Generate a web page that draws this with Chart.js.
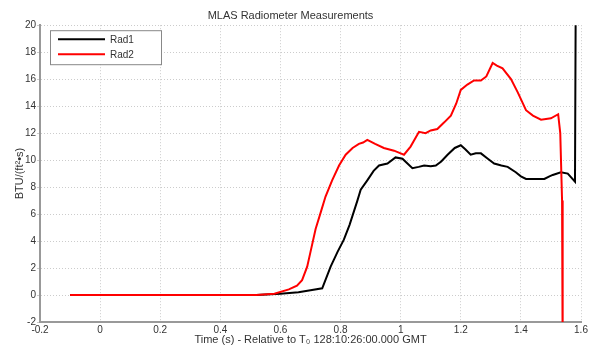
<!DOCTYPE html>
<html>
<head>
<meta charset="utf-8">
<script src="https://cdn.jsdelivr.net/npm/chart.js@4"></script>
<style>
  html, body { margin: 0; padding: 0; background: #fff; }
  #wrap { width: 595px; height: 347px; }
</style>
</head>
<body>
<div id="wrap"><canvas id="chart" width="595" height="347"></canvas></div>
<script>
// Rad1 / Rad2 readings (time in s, BTU/(ft^2 s))
const rad1Time = [-0.1, 0.52, 0.6, 0.66, 0.70, 0.739, 0.767, 0.79, 0.811, 0.83, 0.856, 0.867, 0.889, 0.91, 0.928, 0.956, 0.983, 1.006, 1.02, 1.039, 1.06, 1.078, 1.1, 1.117, 1.135, 1.156, 1.18, 1.2, 1.215, 1.233, 1.25, 1.267, 1.29, 1.311, 1.335, 1.356, 1.383, 1.40, 1.417, 1.45, 1.478, 1.495, 1.506, 1.533, 1.556, 1.58, 1.583];
const rad1Values = [0, 0, 0.1, 0.2, 0.35, 0.5, 2.1, 3.2, 4.1, 5.2, 7.0, 7.8, 8.5, 9.2, 9.6, 9.75, 10.2, 10.1, 9.8, 9.4, 9.5, 9.6, 9.55, 9.6, 9.9, 10.4, 10.9, 11.1, 10.8, 10.4, 10.5, 10.5, 10.1, 9.75, 9.6, 9.5, 9.1, 8.8, 8.6, 8.6, 8.6, 8.8, 8.9, 9.1, 9.0, 8.4, 25];

const rad2Time = [-0.1, 0.52, 0.58, 0.628, 0.655, 0.672, 0.689, 0.70, 0.717, 0.735, 0.75, 0.772, 0.795, 0.817, 0.84, 0.861, 0.875, 0.889, 0.915, 0.944, 0.978, 1.0, 1.011, 1.033, 1.061, 1.083, 1.1, 1.122, 1.145, 1.167, 1.185, 1.2, 1.222, 1.244, 1.267, 1.285, 1.306, 1.32, 1.339, 1.367, 1.39, 1.417, 1.44, 1.467, 1.5, 1.524, 1.531, 1.537, 1.539];
const rad2Values = [0, 0, 0.1, 0.42, 0.7, 1.1, 2.1, 3.2, 4.9, 6.2, 7.3, 8.5, 9.6, 10.4, 10.9, 11.2, 11.3, 11.5, 11.2, 10.9, 10.7, 10.5, 10.4, 11.0, 12.1, 12.0, 12.2, 12.3, 12.8, 13.3, 14.2, 15.2, 15.6, 15.9, 15.9, 16.2, 17.2, 17.0, 16.8, 16.0, 15.0, 13.7, 13.3, 13.0, 13.1, 13.4, 12.0, 7.0, -5];

const xMin = -0.2, xMax = 1.6, xStep = 0.2;
const yMin = -2, yMax = 20, yStep = 2;

const FONT = "'Liberation Sans', Arial, Helvetica, sans-serif";
const TEXT = '#333';

function toPoints(xs, ys) {
  return xs.map((x, i) => ({ x: x, y: ys[i] }));
}

// legend in a box at the top-left corner of the plot, MATLAB style
const boxLegend = {
  id: 'boxLegend',
  afterDraw(chart) {
    const { ctx, chartArea } = chart;
    const x0 = chartArea.left + 10, y0 = chartArea.top + 5;
    const w = 111, h = 34;
    ctx.save();
    ctx.fillStyle = '#fff';
    ctx.fillRect(x0, y0, w, h);
    ctx.strokeStyle = '#888';
    ctx.lineWidth = 1;
    ctx.strokeRect(x0 + 0.5, y0 + 0.5, w, h);
    ctx.font = '10px ' + FONT;
    ctx.textBaseline = 'middle';
    chart.data.datasets.forEach((ds, i) => {
      const ly = y0 + 9 + i * 15;
      ctx.strokeStyle = ds.borderColor;
      ctx.lineWidth = 2;
      ctx.beginPath();
      ctx.moveTo(x0 + 8, ly);
      ctx.lineTo(x0 + 55, ly);
      ctx.stroke();
      ctx.fillStyle = TEXT;
      ctx.fillText(ds.label, x0 + 60, ly + 1);
    });
    ctx.restore();
  }
};

const gridStyle = { color: '#cccccc', lineWidth: 1, drawTicks: false };
const borderStyle = { color: '#999', width: 2, dash: [1, 2] };

new Chart(document.getElementById('chart'), {
  type: 'scatter',
  data: {
    datasets: [
      { label: 'Rad1', data: toPoints(rad1Time, rad1Values), borderColor: '#000000', order: 1 },
      { label: 'Rad2', data: toPoints(rad2Time, rad2Values), borderColor: '#ff0000', order: 0 },
    ],
  },
  options: {
    responsive: false,
    devicePixelRatio: 1,
    animation: false,
    showLine: true,
    layout: { padding: { left: 0, right: 14, top: 0, bottom: 0 } },
    elements: {
      point: { radius: 0, hoverRadius: 0 },
      line: { borderWidth: 2, tension: 0, fill: false },
    },
    scales: {
      x: {
        type: 'linear',
        min: xMin,
        max: xMax,
        afterFit: (s) => { s.height = 25; },
        ticks: {
          stepSize: xStep,
          autoSkip: false,
          maxRotation: 0,
          padding: 2,
          color: TEXT,
          font: { family: FONT, size: 10 },
          callback: (v) => String(Math.round(v * 10) / 10),
        },
        grid: gridStyle,
        border: borderStyle,
        title: {
          display: true,
          text: 'Time (s) - Relative to T₀ 128:10:26:00.000 GMT',
          color: TEXT,
          font: { family: FONT, size: 11 },
          padding: { top: 0, bottom: 0 },
        },
      },
      y: {
        type: 'linear',
        min: yMin,
        max: yMax,
        afterFit: (s) => { s.width = 40; },
        ticks: {
          stepSize: yStep,
          padding: 1,
          color: TEXT,
          font: { family: FONT, size: 10 },
        },
        grid: { color: '#cccccc', lineWidth: 1, drawTicks: true, tickLength: 3 },
        border: borderStyle,
        title: {
          display: true,
          text: 'BTU/(ft²•s)',
          color: TEXT,
          font: { family: FONT, size: 11 },
          padding: { top: 13, bottom: 0 },
        },
      },
    },
    plugins: {
      legend: { display: false },
      tooltip: { enabled: false },
      title: {
        display: true,
        text: 'MLAS Radiometer Measurements',
        color: TEXT,
        font: { family: FONT, size: 11, weight: 'normal' },
        padding: { top: 9, bottom: 3 },
      },
    },
  },
  plugins: [boxLegend],
});
</script>
</body>
</html>
